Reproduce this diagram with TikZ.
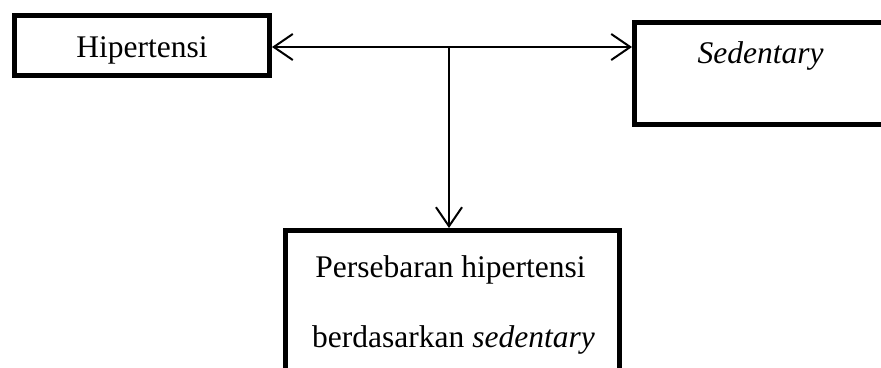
\documentclass[tikz,border=0pt]{standalone}
\usepackage{fontspec}
\setmainfont{Liberation Serif}[ItalicFont={Liberation Serif Italic}]
\usetikzlibrary{arrows.meta}
\tikzset{
  box/.style={draw=black, line width=5pt, rectangle, inner sep=0pt, fill=none},
  lbl/.style={anchor=base, inner sep=0pt, font=\fontsize{31.5}{31.5}\selectfont},
  conn/.style={line width=2pt, draw=black},
  tip/.style={-{Straight Barb[length=19pt,width=26pt,line width=2pt]}},
  tips/.style={{Straight Barb[length=19pt,width=26pt,line width=2pt]}-{Straight Barb[length=19pt,width=26pt,line width=2pt]}}
}
\begin{document}
\begin{tikzpicture}[x=1pt,y=-1pt]
\useasboundingbox (0,0) rectangle (881,367);
\node[box, minimum width=255pt, minimum height=60pt] (h) at (142,45.5) {};
\node[box, minimum width=252pt, minimum height=102pt] (s) at (760.5,73.5) {};
\node[box, minimum width=334pt, minimum height=150pt] (p) at (452.5,305.5) {};
\node[lbl] (ht) at (142,57) {Hipertensi};
\node[lbl] (st) at (760.5,63) {\itshape Sedentary};
\node[lbl] (pt1) at (450.5,277) {Persebaran hipertensi};
\node[lbl] (pt2) at (453.5,347) {berdasarkan \textit{sedentary}};
\coordinate (j) at (449,47);
\draw[conn, tips] (h.east |- j) -- (s.west |- j);
\draw[conn, tip] (j) -- (j |- p.north);
\end{tikzpicture}
\end{document}
